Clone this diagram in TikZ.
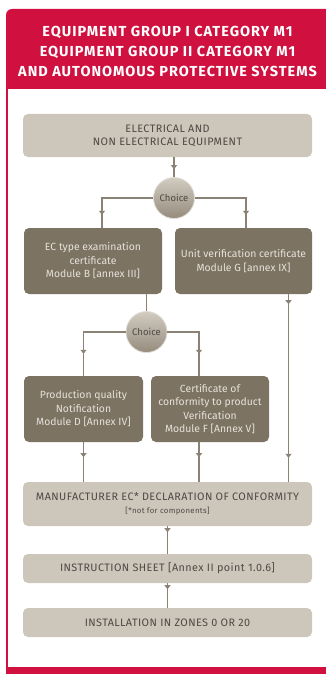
\documentclass[tikz,border=0pt]{standalone}
\usepackage{fontspec}
\setmainfont{Fira Sans}
\newfontfamily\capsfont[LetterSpace=4]{Fira Sans}
\newfontfamily\headfont[LetterSpace=7]{Fira Sans}
\usepackage{xcolor}
\usetikzlibrary{shapes,arrows.meta,positioning,calc,decorations.markings}

\definecolor{exred}{HTML}{D0103F}
\definecolor{boxlight}{HTML}{CDC6BA}
\definecolor{boxdark}{HTML}{7D7363}
\definecolor{flowline}{HTML}{8B8276}
\definecolor{txtdark}{HTML}{4D4A45}
\definecolor{txtlight}{HTML}{E6E2DA}

\tikzset{
    lightbox/.style={rectangle, rounded corners=5pt, fill=boxlight, text=txtdark, align=center, inner sep=2pt, font=\capsfont\fontsize{10.8}{13}\selectfont},
    darkbox/.style={rectangle, rounded corners=5pt, fill=boxdark, text=txtlight, align=center, inner sep=2pt, font=\fontsize{10.4}{13.5}\selectfont},
    choice/.style={circle, minimum size=41pt, inner sep=0pt, top color=boxlight!90!white, bottom color=boxdark!70!boxlight, draw=boxlight!60!white, line width=0.8pt, text=txtdark, font=\fontsize{9.5}{12}\selectfont},
    flow/.style={draw=flowline, color=flowline, line width=1.1pt},
    tipat/.style={postaction={decorate, decoration={markings, mark=at position #1 with {\arrow{Triangle[width=6pt,length=4pt]}}}}}
}

\begin{document}
\begin{tikzpicture}[x=1pt, y=-1pt]
    \useasboundingbox (0,0) rectangle (326,674);

    % red frame
    \fill[exred] (326,89) -- (6,89) [rounded corners=6pt] -- (6,9) -- (340,9) [sharp corners] -- (340,89) -- cycle;
    \draw[exred, line width=2pt] (7,89) -- (7,668);
    \fill[exred] (6,667) rectangle (326,674);
    \node[text=white, align=center, font=\headfont\fontsize{14.5}{20}\selectfont\bfseries] (title) at (167.5,51) {EQUIPMENT GROUP I CATEGORY M1\\EQUIPMENT GROUP II CATEGORY M1\\AND AUTONOMOUS PROTECTIVE SYSTEMS};

    % boxes
    \node[lightbox, minimum width=289pt, minimum height=43pt] (top) at (167.5,135.5) {ELECTRICAL AND\\NON ELECTRICAL EQUIPMENT};
    \node[choice] (ch1) at (174,198) {Choice};
    \node[darkbox, minimum width=138pt, minimum height=66pt] (modB) at (93,261) {EC type examination\\certificate\\Module B [annex III]};
    \node[darkbox, minimum width=137pt, minimum height=66pt] (modG) at (243.5,261) {Unit verification certificate\\Module G [annex IX]};
    \node[choice] (ch2) at (146.5,332) {Choice};
    \node[darkbox, minimum width=119pt, minimum height=66pt] (modD) at (83.5,409) {Production quality\\Notification\\Module D [Annex IV]};
    \node[darkbox, minimum width=118pt, minimum height=66pt] (modF) at (210,409) {Certificate of\\conformity to product\\Verification\\Module F [Annex V]};
    \node[lightbox, minimum width=289pt, minimum height=44pt] (manuf) at (167.5,504) {MANUFACTURER EC* DECLARATION OF CONFORMITY\\{\fontsize{7.8}{10}\selectfont [*not for components]}};
    \node[lightbox, minimum width=289pt, minimum height=29pt] (instr) at (167.5,568.5) {INSTRUCTION SHEET [Annex II point 1.0.6]};
    \node[lightbox, minimum width=289pt, minimum height=29pt] (inst) at (167.5,622.5) {INSTALLATION IN ZONES 0 OR 20};

    % connectors
    \draw[flow, tipat=12pt] (top.south -| ch1) -- (ch1);
    \draw[flow, tipat=-13pt] (ch1.west) -| ([xshift=9pt]modB.north);
    \draw[flow, tipat=-13pt] (ch1.east) -| ([xshift=2.5pt]modG.north);
    \draw[flow] (modB.south -| ch2) -- (ch2);
    \draw[flow, tipat=-22pt] (ch2.west) -| (modD.north);
    \draw[flow, tipat=-22pt] (ch2.east) -| ([xshift=-11pt]modF.north);
    \draw[flow, tipat=15pt] (modD.south) -- (modD.south |- manuf.north);
    \draw[flow, tipat=15pt] ([xshift=-11pt]modF.south) -- ([xshift=-11pt]modF.south |- manuf.north);
    \draw[flow, tipat=10pt, tipat=-24pt] ([xshift=45pt]modG.south) -- ([xshift=45pt]modG.south |- manuf.north);
    \draw[flow, tipat=6pt] (manuf.south) -- (instr.north);
    \draw[flow, tipat=6pt] (instr.south) -- (inst.north);
\end{tikzpicture}
\end{document}
